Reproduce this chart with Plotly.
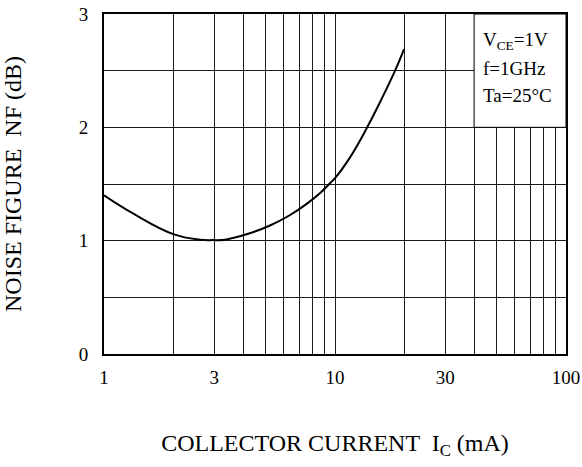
import plotly.graph_objects as go

# Data
collector_current_ma = [1.0, 1.335, 2.01, 2.60, 2.96, 3.34, 4.21, 5.23, 6.34, 7.54, 8.70, 9.51, 10.0, 11.6, 13.75, 16.0, 18.2, 19.9]
noise_figure_db = [1.40, 1.24, 1.055, 1.009, 1.005, 1.009, 1.061, 1.134, 1.222, 1.325, 1.428, 1.507, 1.552, 1.733, 1.996, 2.26, 2.50, 2.69]

x_tick_vals = [1, 3, 10, 30, 100]
x_tick_text = ["1", "3", "10", "30", "100"]
x_minor_vals = [2, 4, 5, 6, 7, 8, 9, 20, 40, 50, 60, 70, 80, 90]
y_tick_vals = [0, 1, 2, 3]
y_minor_vals = [0.5, 1.5, 2.5]
condition_lines = ["V<sub>CE</sub>=1V", "f=1GHz", "Ta=25°C"]

FONT = "Liberation Serif, Times New Roman, serif"
GRID = "#1a1a1a"

# plot area in pixels (for placing the condition texts)
L, T, W, H = 104, 14, 462, 340

fig = go.Figure()
fig.add_trace(go.Scatter(
    x=collector_current_ma, y=noise_figure_db, mode="lines",
    line=dict(color="black", width=2, shape="spline", smoothing=1.2),
    showlegend=False, hoverinfo="skip",
))

# White box holding the test conditions (covers grid in the upper-right cell)
fig.add_shape(type="rect", xref="x", yref="y", x0=40, x1=100, y0=2, y1=3,
              fillcolor="white", line=dict(color="black", width=1), layer="between")

for i, yc in enumerate([41, 68.5, 95.5]):
    fig.add_annotation(
        xref="paper", yref="paper", x=(481 - L) / W, y=1 - (yc - T) / H,
        text=condition_lines[i], showarrow=False, xanchor="left", yanchor="middle",
        font=dict(family=FONT, size=19, color="black"),
    )

fig.update_xaxes(
    type="log", range=[0, 2],
    tickvals=x_tick_vals, ticktext=x_tick_text, ticks="",
    showgrid=True, gridcolor=GRID, gridwidth=1,
    minor=dict(tickvals=x_minor_vals, showgrid=True, gridcolor=GRID, gridwidth=1, ticks=""),
    showline=True, linecolor="black", linewidth=2, mirror=True,
    zeroline=False,
    tickfont=dict(family=FONT, size=19, color="black"),
    ticklabelstandoff=5,
    title=dict(text="COLLECTOR CURRENT  I<sub>C</sub> (mA)", standoff=47,
               font=dict(family=FONT, size=24, color="black")),
)
fig.update_yaxes(
    range=[0, 3],
    tickvals=y_tick_vals, ticks="",
    showgrid=True, gridcolor=GRID, gridwidth=1,
    minor=dict(tickvals=y_minor_vals, showgrid=True, gridcolor=GRID, gridwidth=1, ticks=""),
    showline=True, linecolor="black", linewidth=2, mirror=True,
    zeroline=False,
    tickfont=dict(family=FONT, size=19, color="black"),
    ticklabelstandoff=10,
    title=dict(text="NOISE FIGURE  NF (dB)", standoff=50,
               font=dict(family=FONT, size=24, color="black")),
)

fig.update_layout(
    width=582, height=467,
    margin=dict(l=L, r=582 - L - W, t=T, b=467 - T - H, autoexpand=False),
    paper_bgcolor="white", plot_bgcolor="white",
    font=dict(family=FONT, color="black"),
)

fig.write_html("out.html", config={"displayModeBar": False})

# remove the default page margin so the figure sits at the window's top-left corner
with open("out.html", encoding="utf-8") as f:
    html = f.read()
html = html.replace("<head>", "<head><style>html,body{margin:0;padding:0;overflow:hidden;}</style>", 1)
with open("out.html", "w", encoding="utf-8") as f:
    f.write(html)
